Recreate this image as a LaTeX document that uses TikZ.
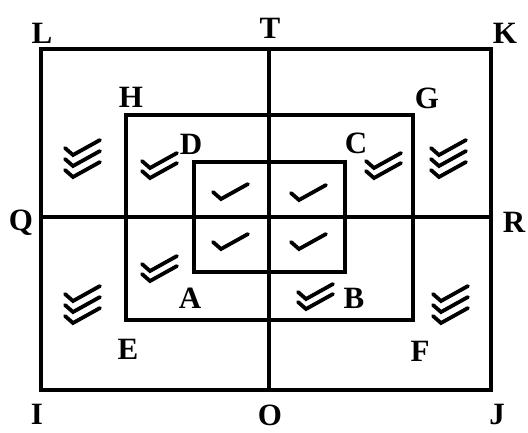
\documentclass[tikz,border=0pt]{standalone}
\usepackage{fontspec}
\setmainfont{Liberation Serif}
\begin{document}
\begin{tikzpicture}[x=1pt,y=-1pt,
  frame/.style={line width=3.2pt, line join=miter},
  lbl/.style={font=\fontsize{31}{31}\selectfont\bfseries, inner sep=0pt, anchor=base},
  tick/.style={line width=3.8pt, line cap=round, line join=miter}]
\useasboundingbox (0,0) rectangle (528,432);
% corner coordinates
\coordinate (cL) at (41,49);   \coordinate (cK) at (491,49);
\coordinate (cI) at (41,390);  \coordinate (cJ) at (491,390);
\coordinate (cT) at (269,49);  \coordinate (cO) at (269,390);
\coordinate (cQ) at (41,217);  \coordinate (cR) at (491,217);
\coordinate (cH) at (126,115); \coordinate (cF) at (413,320);
\coordinate (cD) at (194,162); \coordinate (cB) at (345,272);
% rectangles and axes
\draw[frame] (cL) rectangle (cJ);
\draw[frame] (cH) rectangle (cF);
\draw[frame] (cD) rectangle (cB);
\draw[frame] (cT) -- (cO);
\draw[frame] (cQ) -- (cR);
% labels
\node[lbl] (L) at (42,43) {L};
\node[lbl] (T) at (270,38) {T};
\node[lbl] (K) at (505,43) {K};
\node[lbl] (H) at (131,107) {H};
\node[lbl] (G) at (427,108) {G};
\node[lbl] (D) at (191,154) {D};
\node[lbl] (C) at (356,153) {C};
\node[lbl] (Q) at (21,230) {Q};
\node[lbl] (R) at (514,232) {R};
\node[lbl] (A) at (190,308) {A};
\node[lbl] (B) at (354,308) {B};
\node[lbl] (E) at (128,359) {E};
\node[lbl] (F) at (420,361) {F};
\node[lbl] (I) at (37,424) {I};
\node[lbl] (O) at (270,425) {O};
\node[lbl] (J) at (497,424) {J};
% tick marks
\newcommand{\oneTick}[2]{\draw[tick] (#1-8,#2-7) -- (#1,#2) -- (#1+27,#2-15);}
\foreach \p/\q in {221/199, 299/200, 221/249, 299/249} {\oneTick{\p}{\q}}
\foreach \p/\q in {150/168, 374/168, 150/271, 306/299} {
  \oneTick{\p}{\q}
  \oneTick{\p}{\q+10}}
\foreach \p/\q in {73/155, 439/155, 73/301, 441/301} {
  \oneTick{\p}{\q}
  \oneTick{\p}{\q+11}
  \oneTick{\p}{\q+22}}
\end{tikzpicture}
\end{document}
